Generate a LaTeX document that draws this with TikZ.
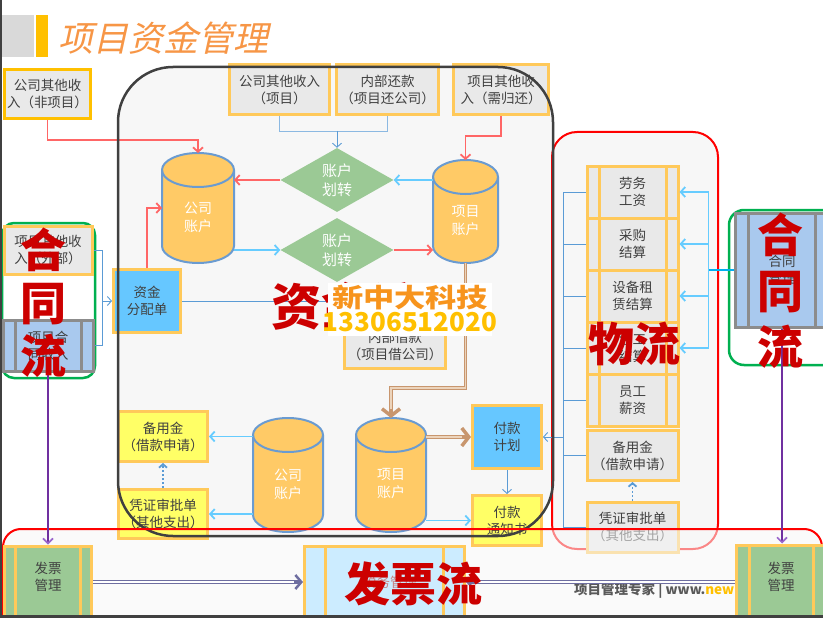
\documentclass[tikz,border=0pt]{standalone}
\usepackage{fontspec}
\setmainfont{Noto Sans CJK SC}
\newfontfamily\titlefont[FakeSlant=0.22]{Noto Sans CJK SC}
\usetikzlibrary{arrows.meta,shapes.geometric,calc}
\definecolor{gold}{RGB}{255,201,90}
\definecolor{goldd}{RGB}{255,192,0}
\definecolor{titlegray}{RGB}{217,217,217}
\definecolor{boxgray}{RGB}{233,233,233}
\definecolor{txtgray}{RGB}{64,64,64}
\definecolor{bgray}{RGB}{247,247,247}
\definecolor{cylfill}{RGB}{255,202,102}
\definecolor{cylline}{RGB}{106,155,209}
\definecolor{dgreen}{RGB}{155,201,149}
\definecolor{skyb}{RGB}{102,199,255}
\definecolor{yel}{RGB}{255,255,102}
\definecolor{redarr}{RGB}{255,102,102}
\definecolor{bluearr}{RGB}{102,204,255}
\definecolor{thinblue}{RGB}{91,155,213}
\definecolor{brownc}{RGB}{200,150,110}
\definecolor{brownl}{RGB}{236,212,188}
\definecolor{purp}{RGB}{112,48,160}
\definecolor{purpl}{RGB}{153,102,204}
\definecolor{bigred}{RGB}{204,0,0}
\definecolor{contractb}{RGB}{169,201,238}
\definecolor{procgray}{RGB}{140,140,140}
\definecolor{invgreen}{RGB}{155,201,149}
\definecolor{taxblue}{RGB}{204,236,255}
\definecolor{taxtxt}{RGB}{200,130,130}
\definecolor{titleor}{RGB}{247,150,70}
\definecolor{wmor}{RGB}{247,148,29}
\definecolor{wmyel}{RGB}{255,192,0}
\definecolor{ggreen}{RGB}{0,176,80}
\definecolor{lineg}{RGB}{64,64,64}
\definecolor{dblarr}{RGB}{110,110,160}
\definecolor{cyanc}{RGB}{0,176,240}
\definecolor{footgray}{RGB}{89,89,89}

\newcommand\drawcyl[6]{%
  \path[fill=cylfill, draw=cylline, line width=2pt]
    ({#2-#3},{#4+17}) -- ({#2-#3},{#5-17})
    arc[start angle=180, end angle=360, x radius=#3pt, y radius=17pt]
    -- ({#2+#3},{#4+17})
    arc[start angle=0, end angle=180, x radius=#3pt, y radius=17pt] -- cycle;
  \draw[cylline, line width=2pt] ({#2+#3},{#4+17})
    arc[start angle=0, end angle=-180, x radius=#3pt, y radius=17pt];
  \node[inner sep=0pt, outer sep=0pt, minimum width={2*#3}, minimum height={#5-#4}] (#1) at (#2,{(#4+#5)/2}) {};
  \node[cyltxt] (#1-t) at (#2,{(#4+#5)/2+9}) {#6};
}

\begin{document}
\begin{tikzpicture}[x=1pt,y=-1pt,
 txt/.style={font=\fontsize{13.5}{17}\selectfont, text=txtgray, align=center, inner sep=0pt},
 bx/.style={txt, draw=gold, line width=3pt},
 proc/.style 2 args={path picture={\draw[line width=3pt,#1] ([xshift=#2]path picture bounding box.north west) -- ([xshift=#2]path picture bounding box.south west) ([xshift=-#2]path picture bounding box.north east) -- ([xshift=-#2]path picture bounding box.south east);}},
 cyltxt/.style={font=\fontsize{14}{18}\selectfont, text=white, align=center, inner sep=0pt},
 dia/.style={diamond, aspect=1.8, fill=dgreen, minimum width=113, minimum height=64, inner sep=0pt, font=\fontsize{15}{19}\selectfont, text=white, align=center},
 redA/.style={draw=redarr, line width=1.8pt, -{Straight Barb[length=4.5pt,width=10pt]}},
 blueA/.style={draw=bluearr, line width=1.8pt, -{Straight Barb[length=4.5pt,width=10pt]}},
 blueL/.style={draw=bluearr, line width=1.8pt},
 thinB/.style={draw=thinblue, line width=0.9pt},
 thinBA/.style={thinB, -{Straight Barb[length=4pt,width=9pt]}},
 dotA/.style={draw=thinblue, line width=1.8pt, dash pattern=on 2pt off 2pt, -{Straight Barb[length=3.5pt,width=8pt]}},
 brownD/.style={draw=brownc, double=brownl, double distance=1.4pt, line width=1.2pt, shorten >=5pt},
 brownTip/.style={draw=brownc, line width=3.5pt, -{Straight Barb[length=7pt,width=18pt]}},
 dblD/.style={draw=dblarr, double=white, double distance=1.2pt, line width=1pt, shorten >=4pt},
 dblTip/.style={draw=dblarr, line width=2.5pt, -{Straight Barb[length=6pt,width=14pt]}},
 purpA/.style={draw=purp, line width=1.6pt, -{Straight Barb[length=5pt,width=10pt,color=purpl]}},
 bigtxt/.style={text=bigred, font=\bfseries\fontsize{46}{54}\selectfont, inner sep=0pt, align=center},
]
\useasboundingbox (0,0) rectangle (823,618);
\clip (0,0) rectangle (823,618);
\fill[white] (0,0) rectangle (823,618);

% title
\fill[titlegray] (0,15) rectangle (34,57);
\fill[goldd] (36,15) rectangle (48,57);
\node[font=\titlefont\fontsize{35}{35}\selectfont, text=titleor, anchor=west, inner sep=0pt] (title) at (58,38) {项目资金管理};

% fund-flow group background
\path[fill=bgray, rounded corners=55pt] (118,67) rectangle (553,536);

% logistics group
\path[fill=bgray, draw=red, line width=2pt, rounded corners=25pt] (552,132) rectangle (718,549);
\node[bx, fill=boxgray, proc={gold}{12pt}, minimum width=91, minimum height=52] (s1) at (632.5,192) {劳务\\工资};
\node[bx, fill=boxgray, proc={gold}{12pt}, minimum width=91, minimum height=52] (s2) at (632.5,244) {采购\\结算};
\node[bx, fill=boxgray, proc={gold}{12pt}, minimum width=91, minimum height=52] (s3) at (632.5,296) {设备租\\赁结算};
\node[bx, fill=boxgray, proc={gold}{12pt}, minimum width=91, minimum height=52] (s4) at (632.5,348) {包工\\结算};
\node[bx, fill=boxgray, proc={gold}{12pt}, minimum width=91, minimum height=52] (s5) at (632.5,400) {员工\\薪资};
\node[bx, fill=boxgray, minimum width=91, minimum height=50] (rb) at (632.5,455.5) {备用金\\（借款申请）};
\node[bx, fill=boxgray, minimum width=91, minimum height=50] (rp) at (632.5,527) {凭证审批单\\（其他支出）};
\draw[dotA] (rp.north) -- (rb.south);
\draw[thinB] (s1.west) -- ++(-22,0) coordinate (wb1) -- (wb1 |- rp.west) -- (rp.west);
\foreach \n in {s2,s3,s4,s5,rb} \draw[thinB] (\n.west) -- (\n.west -| wb1);
\path (s1.east) ++(29,0) coordinate (rb1);
\draw[blueL] (rb1) -- (rb1 |- s4.east);
\foreach \n in {s1,s2,s3,s4} \draw[blueA] (\n.east -| rb1) -- (\n.east);

% invoice group translucent background
\path[fill=bgray, fill opacity=0.55, rounded corners=18pt] (3,529) rectangle (822,680);

% left contract group
\path[fill=white, draw=ggreen, line width=2.5pt, rounded corners=12pt] (2,223) rectangle (95,378);
\node[bx, fill=boxgray, minimum width=88, minimum height=48] (lo) at (48,250) {项目其他收\\入（外部）};
\node[bx, draw=procgray, fill=contractb, proc={procgray}{12pt}, minimum width=90, minimum height=51] (lc) at (48,345.5) {项目合\\同收入};

% right contract group
\path[fill=white, draw=ggreen, line width=2.5pt, rounded corners=15pt] (729,210) rectangle (850,365);
\node[bx, draw=procgray, fill=contractb, proc={procgray}{13pt}, minimum width=93, minimum height=114] (rc) at (782,270) {合同\\管理};
\draw[draw=cyanc, line width=2.5pt] (rc.west) -- (rc.west -| rb1);

% fund-flow contents
\node[bx, draw=goldd, fill=boxgray, minimum width=86, minimum height=49] (n1) at (47.5,94) {公司其他收\\入（非项目）};
\node[bx, fill=boxgray, minimum width=100, minimum height=50] (t1) at (279.5,89.5) {公司其他收入\\（项目）};
\node[bx, fill=boxgray, minimum width=102, minimum height=50] (t2) at (387.5,89.5) {内部还款\\（项目还公司）};
\node[bx, fill=boxgray, minimum width=95, minimum height=50] (t3) at (501,89.5) {项目其他收\\入（需归还）};
\node[dia] (d1) at (337,180) {账户\\划转};
\node[dia] (d2) at (337,250) {账户\\划转};
\drawcyl{ca1}{198}{36}{153}{263}{公司\\账户}
\drawcyl{pa1}{465.5}{32.5}{160}{263}{项目\\账户}
\drawcyl{ca2}{288}{35}{418}{532}{公司\\账户}
\drawcyl{pa2}{391}{35}{418}{532}{项目\\账户}
\node[bx, fill=skyb, minimum width=67, minimum height=63] (zf) at (147,301) {资金\\分配单};
\node[bx, fill=boxgray, minimum width=101, minimum height=45] (nb) at (395,346) {内部借款\\（项目借公司）};
\node[bx, fill=yel, minimum width=89, minimum height=50] (by) at (163,436.5) {备用金\\（借款申请）};
\node[bx, fill=yel, minimum width=89, minimum height=49] (pz) at (163,514) {凭证审批单\\（其他支出）};
\node[bx, fill=skyb, minimum width=69, minimum height=63] (fp) at (507,437) {付款\\计划};
\node[bx, fill=yel, minimum width=69, minimum height=50] (ft) at (507,520.5) {付款\\通知书};

% fund-flow connectors
\draw[redA] (n1.south) -- ++(0,20) -| (ca1.north);
\draw[thinB, draw=thinblue!70] (t1.south) -- ++(0,15) coordinate (j1) -| (t2.south);
\draw[thinBA] (j1 -| d1.north) -- (d1.north);
\draw[redA] (t3.south) -- ++(0,20) -| (pa1.north);
\draw[redA] (d1.west) -- (d1.west -| ca1.east);
\draw[blueA] (d1.east -| pa1.west) -- (d1.east);
\draw[blueA] (d2.west -| ca1.east) -- (d2.west);
\draw[redA] (d2.east) -- (d2.east -| pa1.west);
\draw[redA] (zf.north) |- (ca1.west);
\coordinate (zfend) at (345,301);
\draw[thinB] (zf.east) -- (zfend);
\draw[thinB] (lo.east) -- ++(9,0) coordinate (lb1) |- (lc.east);
\draw[thinBA] (lb1 |- zf.west) -- (zf.west);
\draw[brownD] (pa1.south) -- ++(0,125) -| (pa2.north);
\draw[brownTip] ([yshift=9pt]pa2.north) -- (pa2.north);
\draw[brownD] (fp.west -| pa2.east) -- (fp.west);
\draw[brownTip] ([xshift=-9pt]fp.west) -- (fp.west);
\draw[blueA] (by.east -| ca2.west) -- (by.east);
\draw[blueA] (pz.east -| ca2.west) -- (pz.east);
\draw[dotA] (pz.north) -- (by.south);
\draw[blueA] (ft.west -| pa2.east) -- (ft.west);
\draw[thinBA] (fp.south) -- (ft.north);
\draw[thinBA] (fp.east -| wb1) -- (fp.east);

% fund-flow border
\path[draw=lineg, line width=2.5pt, rounded corners=55pt] (118,67) rectangle (553,536);

% invoice group
\path[draw=red, line width=2pt, rounded corners=18pt] (3,529) rectangle (822,680);
\node[bx, fill=invgreen, proc={gold}{11pt}, minimum width=87, minimum height=76] (fl) at (48,584) {};
\node[txt] (flt) at (48,577) {发票\\管理};
\node[bx, fill=taxblue, proc={gold}{21pt}, minimum width=160, minimum height=76] (fm) at (384.5,584) {};
\node[txt, text=taxtxt] (fmt) at (390,582) {税务管理};
\node[anchor=west, inner sep=0pt, font=\bfseries\fontsize{13.5}{16}\selectfont, text=footgray] (foot) at (574,591) {项目管理专家 | www.\textcolor{wmyel}{new}};
\node[bx, fill=invgreen, proc={gold}{13pt}, minimum width=90, minimum height=76] (fr) at (781,583) {};
\node[txt] (frt) at (781,577) {发票\\管理};
\draw[dblD] ([yshift=2pt]fl.east) -- ([yshift=2pt]fm.west);
\draw[dblTip] ([xshift=-9pt,yshift=2pt]fm.west) -- ([yshift=2pt]fm.west);
\draw[dblD] ([yshift=1pt]fr.west) -- ([yshift=2pt]fm.east);
\draw[dblTip] ([xshift=9pt,yshift=2pt]fm.east) -- ([yshift=2pt]fm.east);
\draw[purpA] (lc.south) -- (lc.south |- fl.north);
\draw[purpA] (rc.south) -- (rc.south |- fr.north);

% big red labels
\node[bigtxt, font=\bfseries\fontsize{46}{53}\selectfont] (hl) at (43,303) {合\\同\\流};
\node[bigtxt, font=\bfseries\fontsize{46}{56}\selectfont] (hr) at (780,291) {合\\同\\流};
\node[bigtxt] (wl) at (634,344) {物流};
\node[bigtxt, font=\bfseries\fontsize{50}{50}\selectfont] (zj) at (346,306) {资金流};
\node[bigtxt] (fpl) at (413,584) {发票流};

% watermark
\node[fill=white, minimum width=164, minimum height=53, inner sep=0pt] (wm) at (410,309.5) {};
\node[inner sep=0pt, text=wmor, font=\bfseries\fontsize{26}{26}\selectfont] (wm1) at (410,298) {\scalebox{1.2}[1]{新中大科技}};
\node[inner sep=0pt, text=wmyel, font=\bfseries\fontsize{26}{26}\selectfont] (wm2) at (410,322) {13306512020};

% screen edges
\draw[lineg, line width=2pt] (1,0) -- (1,618);
\fill[lineg] (0,615) rectangle (823,618);
\end{tikzpicture}
\end{document}
